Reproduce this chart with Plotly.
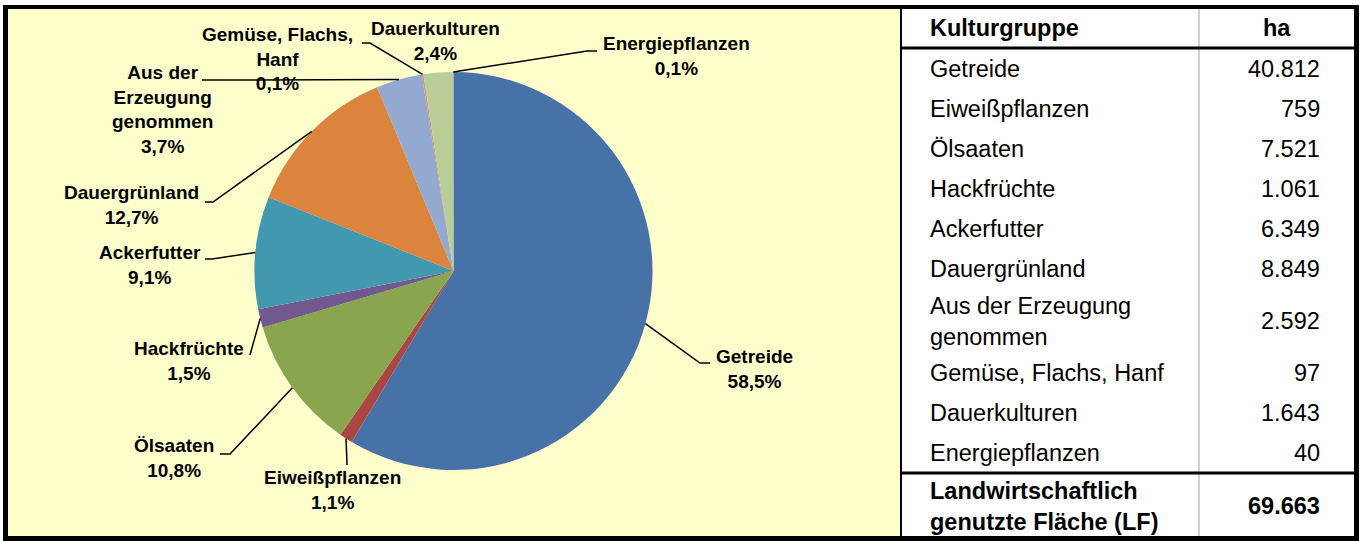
import math
import plotly.graph_objects as go

# ---------------- data ----------------
categories = ["Getreide", "Eiweißpflanzen", "Ölsaaten", "Hackfrüchte", "Ackerfutter",
              "Dauergrünland", "Aus der Erzeugung genommen", "Gemüse, Flachs, Hanf",
              "Dauerkulturen", "Energiepflanzen"]
hectares = [40812, 759, 7521, 1061, 6349, 8849, 2592, 97, 1643, 40]
pie_labels = ["Getreide", "Eiweißpflanzen", "Ölsaaten", "Hackfrüchte", "Ackerfutter",
              "Dauergrünland", "Aus der<br>Erzeugung<br>genommen", "Gemüse, Flachs,<br>Hanf",
              "Dauerkulturen", "Energiepflanzen"]
table_labels = ["Getreide", "Eiweißpflanzen", "Ölsaaten", "Hackfrüchte", "Ackerfutter",
                "Dauergrünland", "Aus der Erzeugung<br>genommen", "Gemüse, Flachs, Hanf",
                "Dauerkulturen", "Energiepflanzen"]
header_labels = ["Kulturgruppe", "ha"]
total_label = "Landwirtschaftlich<br>genutzte Fläche (LF)"
total_ha = 69663

colors = ["#4672A8", "#AA4643", "#89A54E", "#71588F", "#4198AF",
          "#DB843D", "#93A9CF", "#D19392", "#B9CD96", "#A99BBD"]

# ---------------- layout helpers ----------------
W, H = 1363, 541
def px(x): return x / W
def py(y): return 1 - y / H

cx, cy, R = 453.5, 271.0, 199.0
FONT = "Liberation Sans, Arial, sans-serif"

def fmt_de(v):
    return f"{v:,}".replace(",", ".")

def fmt_pct(p):
    return f"{p:.1f}".replace(".", ",") + "%"

# label block centres and leader elbow points (pixel positions of the layout)
label_pos = [(754, 369), (332, 490), (174, 458), (189, 361), (150, 265),
             (131, 205), (162, 109), (277, 59), (436, 41), (676, 56)]
leader_pts = [[(700, 363), (710, 363)],
              [(347, 465)],
              [(230, 454), (220, 454)],
              [(250, 355)],
              [(212, 259), (205, 259)],
              [(213, 202), (205, 202)],
              [(202, 80)],
              [(370, 43), (362, 43)],
              [],
              [(587, 51), (597, 51)]]

fig = go.Figure()
fig.add_trace(go.Pie(
    values=hectares, labels=categories, sort=False, direction="clockwise", rotation=0,
    marker=dict(colors=colors, line=dict(width=0)), textinfo="none", showlegend=False,
    domain=dict(x=[px(cx - R), px(cx + R)], y=[py(cy + R), py(cy - R)]),
    hoverinfo="label+value+percent",
))

shapes = []
annotations = []

# frame / panels
shapes.append(dict(type="rect", xref="paper", yref="paper", x0=px(3), x1=px(1359), y0=py(541), y1=py(5),
                   fillcolor="black", line=dict(width=0), layer="below"))
shapes.append(dict(type="rect", xref="paper", yref="paper", x0=px(8), x1=px(900), y0=py(536), y1=py(9),
                   fillcolor="#FFFFCC", line=dict(width=0), layer="below"))
shapes.append(dict(type="rect", xref="paper", yref="paper", x0=px(902), x1=px(1354), y0=py(536), y1=py(9),
                   fillcolor="white", line=dict(width=0), layer="below"))
shapes.append(dict(type="line", xref="paper", yref="paper", x0=px(1199), x1=px(1199), y0=py(536), y1=py(9),
                   line=dict(color="#A6A6A6", width=1), layer="below"))
shapes.append(dict(type="rect", xref="paper", yref="paper", x0=px(902), x1=px(1354), y0=py(49.5), y1=py(46.5),
                   fillcolor="black", line=dict(width=0), layer="below"))
shapes.append(dict(type="rect", xref="paper", yref="paper", x0=px(902), x1=px(1354), y0=py(474.5), y1=py(471.5),
                   fillcolor="black", line=dict(width=0), layer="below"))

# pie labels and leader lines
total = sum(hectares)
cum = 0
for i, v in enumerate(hectares):
    a = 2 * math.pi * (cum + v / 2) / total
    cum += v
    ex, ey = cx + R * math.sin(a), cy - R * math.cos(a)
    pts = [(ex, ey)] + leader_pts[i]
    if len(pts) > 1:
        path = "M " + " L ".join(f"{px(x):.5f},{py(y):.5f}" for x, y in pts)
        shapes.append(dict(type="path", xref="paper", yref="paper", path=path,
                           line=dict(color="black", width=1.5), layer="above"))
    lx, ly = label_pos[i]
    annotations.append(dict(
        x=px(lx), y=py(ly), xref="paper", yref="paper", xanchor="center", yanchor="middle",
        text=f"<b>{pie_labels[i]}<br>{fmt_pct(100 * v / total)}</b>", showarrow=False,
        align="center", font=dict(family=FONT, size=19, color="black")))

# table
TFS = 23.5
LX, RX = 928, 1322
annotations.append(dict(x=px(LX), y=py(28), xref="paper", yref="paper", xanchor="left", yanchor="middle",
                        text=f"<b>{header_labels[0]}</b>", showarrow=False,
                        font=dict(family=FONT, size=TFS, color="black")))
annotations.append(dict(x=px(1276.5), y=py(28), xref="paper", yref="paper", xanchor="center", yanchor="middle",
                        text=f"<b>{header_labels[1]}</b>", showarrow=False,
                        font=dict(family=FONT, size=TFS, color="black")))
y = 49
for lab, v in zip(table_labels, hectares):
    h = 64 if "<br>" in lab else 40
    yc = y + h / 2
    annotations.append(dict(x=px(LX), y=py(yc), xref="paper", yref="paper", xanchor="left", yanchor="middle",
                            text=lab, showarrow=False, align="left",
                            font=dict(family=FONT, size=TFS, color="black")))
    annotations.append(dict(x=px(RX), y=py(yc), xref="paper", yref="paper", xanchor="right", yanchor="middle",
                            text=fmt_de(v), showarrow=False,
                            font=dict(family=FONT, size=TFS, color="black")))
    y += h
annotations.append(dict(x=px(LX), y=py(506), xref="paper", yref="paper", xanchor="left", yanchor="middle",
                        text=f"<b>{total_label}</b>", showarrow=False, align="left",
                        font=dict(family=FONT, size=TFS, color="black")))
annotations.append(dict(x=px(RX), y=py(506), xref="paper", yref="paper", xanchor="right", yanchor="middle",
                        text=f"<b>{fmt_de(total_ha)}</b>", showarrow=False,
                        font=dict(family=FONT, size=TFS, color="black")))

fig.update_layout(
    width=W, height=H, margin=dict(l=0, r=0, t=0, b=0),
    paper_bgcolor="white", plot_bgcolor="white",
    shapes=shapes, annotations=annotations,
    font=dict(family=FONT, color="black"),
)
fig.write_html("out.html", config={"displayModeBar": False},
               post_script="document.body.style.margin='0';document.body.style.overflow='hidden';")
